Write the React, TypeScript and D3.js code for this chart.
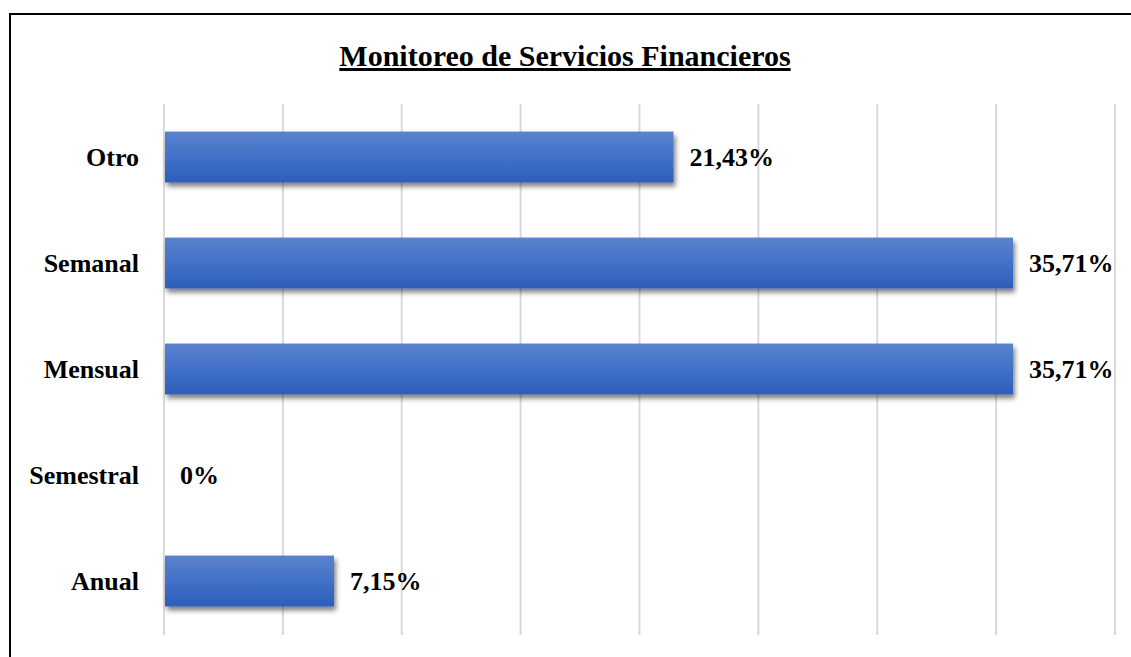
import React from "react";
import * as d3 from "d3";

const categories = ["Otro", "Semanal", "Mensual", "Semestral", "Anual"];
const values = [21.43, 35.71, 35.71, 0, 7.15];
const valueLabels = ["21,43%", "35,71%", "35,71%", "0%", "7,15%"];
const gridTicks = [0, 5, 10, 15, 20, 25, 30, 35, 40];
const title = "Monitoreo de Servicios Financieros";

const W = 1131;
const H = 657;
const FONT = "'Times New Roman', 'Liberation Serif', serif";

export default function App() {
  const x = d3.scaleLinear().domain([0, 40]).range([164, 1115]);
  const y = d3.scaleBand<string>().domain(categories).range([104, 634]).paddingInner(0.52).paddingOuter(0.26);
  const bw = y.bandwidth();
  return (
    <svg width={W} height={H} style={{ position: "absolute", left: 0, top: 0, background: "#fff" }} fontFamily={FONT}>
      <defs>
        <linearGradient id="barGrad" x1="0" y1="0" x2="0" y2="1">
          <stop offset="0%" stopColor="#5B82CE" />
          <stop offset="50%" stopColor="#4271C8" />
          <stop offset="100%" stopColor="#2D5DB9" />
        </linearGradient>
        <filter id="shadow" x="-5%" y="-20%" width="110%" height="150%">
          <feGaussianBlur in="SourceAlpha" stdDeviation="2.5" />
          <feOffset dx="2" dy="4" result="ob" />
          <feComponentTransfer>
            <feFuncA type="linear" slope="0.5" />
          </feComponentTransfer>
          <feMerge>
            <feMergeNode />
            <feMergeNode in="SourceGraphic" />
          </feMerge>
        </filter>
      </defs>
      <rect x={10} y={14} width={1130} height={660} fill="#fff" stroke="#000" strokeWidth={2} />
      <text x={565} y={66} textAnchor="middle" fontSize={30} fontWeight="bold" textDecoration="underline">
        {title}
      </text>
      {gridTicks.map((t) => (
        <line key={t} x1={x(t)} x2={x(t)} y1={104} y2={635} stroke="#d9d9d9" strokeWidth={2} />
      ))}
      {categories.map((c, i) => {
        const yy = y(c)!;
        return (
          <g key={c}>
            {values[i] > 0 && (
              <rect x={x(0) + 1} y={yy} width={x(values[i]) - x(0) - 1} height={bw} fill="url(#barGrad)" filter="url(#shadow)" />
            )}
            <text x={139} y={yy + bw / 2} dy="0.35em" textAnchor="end" fontSize={26} fontWeight="bold">
              {c}
            </text>
            <text x={x(values[i]) + 16} y={yy + bw / 2} dy="0.35em" fontSize={26} fontWeight="bold">
              {valueLabels[i]}
            </text>
          </g>
        );
      })}
    </svg>
  );
}
